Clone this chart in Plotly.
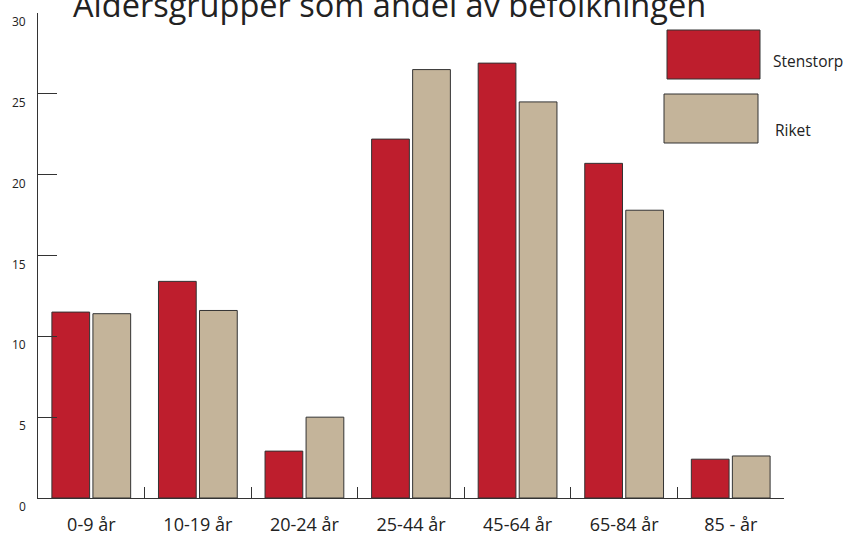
import plotly.graph_objects as go

categories = ["0-9 år", "10-19 år", "20-24 år", "25-44 år", "45-64 år", "65-84 år", "85 - år"]
stenstorp = [11.5, 13.4, 2.9, 22.2, 26.9, 20.7, 2.4]
riket = [11.4, 11.6, 5.0, 26.5, 24.5, 17.8, 2.6]
y_ticks = [0, 5, 10, 15, 20, 25, 30]
series_names = ["Stenstorp", "Riket"]
title_text = "Åldersgrupper som andel av befolkningen"

RED = "#BE1E2D"
TAN = "#C4B49A"
EDGE = "#333333"
FONT = "Open Sans"

W, H = 846, 536
L, T, R, B = 38, 13, 62, 38
PW, PH = W - L - R, H - T - B


def px(x):
    return (x - L) / PW


def py(y):
    return (H - B - y) / PH


fig = go.Figure()
fig.add_trace(go.Bar(x=categories, y=stenstorp, name=series_names[0],
                     marker=dict(color=RED, line=dict(color=EDGE, width=1))))
fig.add_trace(go.Bar(x=categories, y=riket, name=series_names[1],
                     marker=dict(color=TAN, line=dict(color=EDGE, width=1))))

annotations = []
for v in y_ticks:
    annotations.append(dict(x=0, xref="paper", y=v, yref="y", text=str(v), showarrow=False,
                            xanchor="right", yanchor="middle", xshift=-10, yshift=-8.5,
                            font=dict(family=FONT, size=12, color="#222")))

annotations.append(dict(x=px(71), xref="paper", y=py(4), yref="paper", text=title_text,
                        showarrow=False, xanchor="left", yanchor="middle",
                        font=dict(family=FONT, size=32.5, color="#222")))

shapes = [
    dict(type="rect", xref="paper", yref="paper", x0=px(667), x1=px(760), y0=py(79), y1=py(30),
         fillcolor=RED, line=dict(color=EDGE, width=1)),
    dict(type="rect", xref="paper", yref="paper", x0=px(664), x1=px(758), y0=py(143), y1=py(94),
         fillcolor=TAN, line=dict(color=EDGE, width=1)),
]
annotations.append(dict(x=px(771), xref="paper", y=py(61), yref="paper", text=series_names[0],
                        showarrow=False, xanchor="left", yanchor="middle",
                        font=dict(family=FONT, size=15.5, color="#222")))
annotations.append(dict(x=px(773), xref="paper", y=py(130), yref="paper", text=series_names[1],
                        showarrow=False, xanchor="left", yanchor="middle",
                        font=dict(family=FONT, size=15.5, color="#222")))

fig.update_layout(
    width=W, height=H,
    margin=dict(l=L, r=R, t=T, b=B, pad=0),
    paper_bgcolor="white", plot_bgcolor="white",
    barmode="group", bargap=0.23, bargroupgap=0.08,
    showlegend=False,
    font=dict(family=FONT, color="#222"),
    annotations=annotations, shapes=shapes,
)
fig.update_xaxes(type="category", showline=True, linecolor=EDGE, linewidth=1,
                 ticks="inside", tickson="boundaries", ticklen=11, tickcolor=EDGE, tickwidth=1,
                 tickfont=dict(family=FONT, size=18, color="#222"), ticklabelstandoff=10,
                 automargin=False, showgrid=False, zeroline=False)
fig.update_yaxes(range=[0, 30], tickvals=y_ticks, showticklabels=False, showline=True,
                 linecolor=EDGE, linewidth=1, ticks="inside", ticklen=19, tickcolor=EDGE,
                 tickwidth=1, automargin=False, showgrid=False, zeroline=False)

fig.write_html("out.html", config={"displayModeBar": False},
               post_script="document.body.style.margin='0px';")
